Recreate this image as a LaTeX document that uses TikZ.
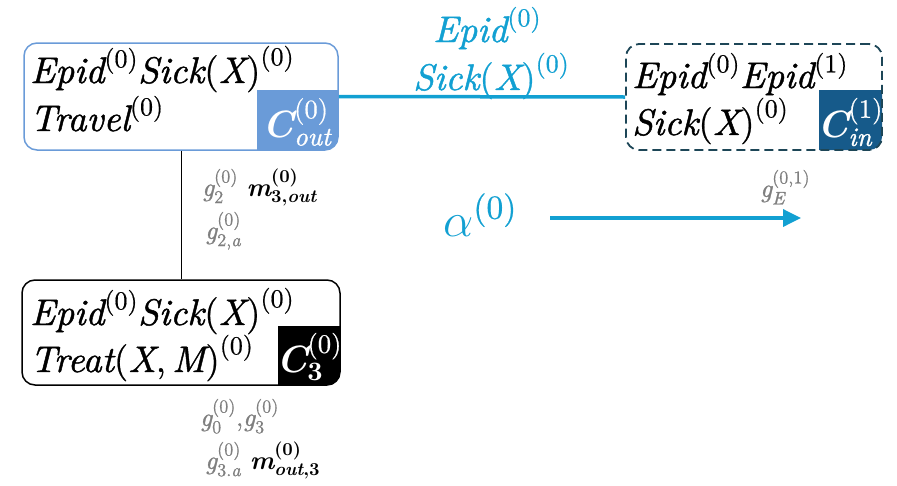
\RequirePackage{fix-cm}
\documentclass[tikz,border=0pt]{standalone}
\usepackage{amsmath}
\usepackage{fontspec}
\setmainfont{lmroman10-regular.otf}[ItalicFont=lmroman10-italic.otf, BoldFont=lmroman10-bold.otf, BoldItalicFont=lmroman10-bolditalic.otf, ItalicFeatures={FakeBold=1.2}, UprightFeatures={FakeBold=0.6}]
\usetikzlibrary{arrows.meta}
\definecolor{boxblue}{HTML}{6A9BD8}
\definecolor{linkblue}{HTML}{12A0D2}
\definecolor{darkteal}{HTML}{1D4657}
\definecolor{cinblue}{HTML}{165A8A}
\definecolor{labgray}{HTML}{7F7F7F}
\newcommand\tx[1]{\text{\itshape #1}}
\newcommand\up[1]{\text{\upshape #1}}
\newcommand\bx[1]{\text{\bfseries\itshape #1}}
\newcommand\bu[1]{\text{\bfseries\upshape #1}}
\tikzset{
  main/.style={font=\fontsize{37}{42}\selectfont, inner sep=0pt, anchor=base west},
  lab/.style={font=\fontsize{26}{30}\selectfont, inner sep=0pt, anchor=base west},
  ctag/.style={font=\fontsize{38}{42}\selectfont, inner sep=0pt, text=white},
  frame/.style={rounded corners=13pt, line width=1.5pt, inner sep=0pt, fill=none},
  link/.style={linkblue, line width=3.5pt},
  plain/.style={black, line width=1pt}
}
\begin{document}
\begin{tikzpicture}[x=1pt,y=-1pt]
\useasboundingbox (0,0) rectangle (897,485);
% box 1
\fill[boxblue] (257,90) -- (338,90) [rounded corners=13pt] -- (338,150) [sharp corners] -- (257,150) -- cycle;
\node[frame, draw=boxblue, minimum width=314pt, minimum height=107pt] (b1) at (181,96.5) {};
\node[main] (t1a) at (30,83) {$\tx{Epid}^{\up{(0)}}\tx{Sick}\up{(}\tx{X}\up{)}^{\up{(0)}}$};
\node[main] (t1b) at (30,131) {$\tx{Travel}^{\up{(0)}}$};
\node[ctag] (c1) at (297,122) {$\bx{C}^{\up{(0)}}_{\tx{out}}$};
% box 2
\fill[cinblue] (819,90) -- (882,90) [rounded corners=13pt] -- (882,150) [sharp corners] -- (819,150) -- cycle;
\node[frame, draw=darkteal, line width=1.8pt, dashed, dash pattern=on 9pt off 5pt, minimum width=256pt, minimum height=106pt] (b2) at (754,97) {};
\node[main] (t2a) at (632,88) {$\tx{Epid}^{\up{(0)}}\tx{Epid}^{\up{(1)}}$};
\node[main] (t2b) at (632,135) {$\tx{Sick}\up{(}\tx{X}\up{)}^{\up{(0)}}$};
\node[ctag] (c2) at (850,122) {$\bx{C}^{\up{(1)}}_{\tx{in}}$};
% box 3
\fill[black] (278,326) -- (340,326) [rounded corners=13pt] -- (340,385) [sharp corners] -- (278,385) -- cycle;
\node[frame, draw=black, minimum width=318pt, minimum height=105pt] (b3) at (181,332.5) {};
\node[main] (t3a) at (30,325) {$\tx{Epid}^{\up{(0)}}\tx{Sick}\up{(}\tx{X}\up{)}^{\up{(0)}}$};
\node[main] (t3b) at (30,372) {$\tx{Treat}\up{(}\tx{X}\up{,\,}\tx{M}\up{)}^{\up{(0)}}$};
\node[ctag] (c3) at (309,357) {$\bx{C}^{\up{(0)}}_{\bu{3}}$};
% connectors
\draw[link] (b1.east) -- (b2.west);
\draw[plain] (b1.south) -- (b3.north);
% link label
\node[main, text=linkblue] (l1) at (433,42) {$\tx{Epid}^{\up{(0)}}$};
\node[main, text=linkblue] (l2) at (413,90) {$\tx{Sick}\up{(}\tx{X}\up{)}^{\up{(0)}}$};
% alpha arrow
\node[font=\fontsize{48}{54}\selectfont, inner sep=0pt, anchor=base west, text=linkblue] (al) at (443,236) {$\alpha^{\up{(0)}}$};
\coordinate (a0) at (550,218);
\coordinate (a1) at (801,218);
\draw[link, -{Triangle[length=18pt,width=17pt]}] (a0) -- (a1);
\node[lab, text=labgray] (ge) at (760,197) {$\tx{g}_{\tx{E}}^{\up{(0,1)}}$};
% labels near vertical line
\node[lab] (g2) at (202,196) {$\color{labgray}\tx{g}_{\up{2}}^{\up{(0)}}\ \color{black}\bx{m}^{\bu{(0)}}_{\bu{3,}\bx{out}}$};
\node[lab, text=labgray] (g2a) at (205,239) {$\tx{g}_{\up{2,}\tx{a}}^{\up{(0)}}$};
% labels below box 3
\node[lab, text=labgray] (g03) at (200,426) {$\tx{g}_{\up{0}}^{\up{(0)}}\up{,}\tx{g}_{\up{3}}^{\up{(0)}}$};
\node[lab] (g3a) at (205,469) {$\color{labgray}\tx{g}_{\up{3.}\tx{a}}^{\up{(0)}}\ \color{black}\bx{m}^{\bu{(0)}}_{\bx{out}\bu{,3}}$};
\end{tikzpicture}
\end{document}
